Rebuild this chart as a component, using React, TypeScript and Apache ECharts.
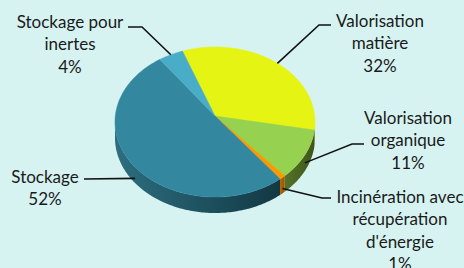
import React, { useEffect, useRef } from 'react';
import * as echarts from 'echarts';

const categories = [
  'Valorisation matière',
  'Valorisation organique',
  "Incinération avec récupération d'énergie",
  'Stockage',
  'Stockage pour inertes',
];
const labelTexts = [
  'Valorisation\nmatière',
  'Valorisation\norganique',
  "Incinération avec\nrécupération\nd'énergie",
  'Stockage',
  'Stockage pour\ninertes',
];
const values = [32, 11, 1, 52, 4];

const topColors = ['#e5f412', '#96d14f', '#f89a00', '#33879e', '#4aadc7'];
const sideColors = [
  ['#8a9400', '#6f7800'],
  ['#55722a', '#3e5519'],
  ['#b26600', '#9a5600'],
  ['#2d6e80', '#123843'],
  ['#2f7c90', '#236272'],
];

const PIE = { cx: 215, cy: 122, hubY: 116, rx: 100, ry: 75, depth: 16, startDeg: -19 };
const FONT = 'Lato';
const FONT_SIZE = 17;
const LINE_H = 22.5;

// label layout: anchor drop fraction (onto side wall), elbow, line end, text top-center
const labelLayout = [
  { drop: 0, elbow: [319, 25], end: [331, 25], text: [380, 9] },
  { drop: 0.5, elbow: [352, 144], end: [364, 144], text: [408, 106] },
  { drop: 0.7, elbow: [322, 198], end: [331, 198], text: [400, 185] },
  { drop: 0.7, elbow: null, end: [84, 179], text: [45, 165] },
  { drop: 0, elbow: [142, 27], end: [128, 27], text: [70, 10] },
];

function pt(deg: number, dy = 0): number[] {
  const r = (deg * Math.PI) / 180;
  return [PIE.cx + PIE.rx * Math.sin(r), PIE.cy - PIE.ry * Math.cos(r) + dy];
}

function arc(a0: number, a1: number, dy = 0): number[][] {
  const pts: number[][] = [];
  const n = Math.max(2, Math.ceil(Math.abs(a1 - a0) / 1));
  for (let i = 0; i <= n; i++) pts.push(pt(a0 + ((a1 - a0) * i) / n, dy));
  return pts;
}

export default function App() {
  const ref = useRef<HTMLDivElement>(null);
  useEffect(() => {
    if (!ref.current) return;
    const chart = echarts.init(ref.current, undefined, { renderer: 'svg' });
    const total = values.reduce((a, b) => a + b, 0);

    const renderItem = (params: any, api: any) => {
      const idx = params.dataIndex;
      const v = api.value(0);
      let before = 0;
      for (let i = 0; i < idx; i++) before += values[i];
      const a0 = PIE.startDeg + (before / total) * 360;
      const a1 = a0 + (v / total) * 360;
      const children: any[] = [];

      // side wall (front half: 90..270 clockwise from top)
      const s = Math.max(a0, 90);
      const e = Math.min(a1, 270);
      if (e > s) {
        const top = arc(s, e, 0);
        const bot = arc(s, e, PIE.depth).reverse();
        children.push({
          type: 'polygon',
          z2: 1,
          shape: { points: top.concat(bot) },
          style: {
            fill: new echarts.graphic.LinearGradient(0, 0, 1, 0, [
              { offset: 0, color: sideColors[idx][0] },
              { offset: 1, color: sideColors[idx][1] },
            ]),
            stroke: null,
          },
        });
      }

      // top face
      const topPts = [[PIE.cx, PIE.hubY]].concat(arc(a0, a1, 0));
      children.push({
        type: 'polygon',
        z2: 5,
        shape: { points: topPts },
        style: { fill: topColors[idx], stroke: topColors[idx], lineWidth: 0.5 },
      });

      // label
      const lay = labelLayout[idx];
      const mid = (a0 + a1) / 2;
      const anchor = pt(mid, PIE.depth * lay.drop);
      const linePts = lay.elbow ? [anchor, lay.elbow, lay.end] : [anchor, lay.end];
      children.push({
        type: 'polyline',
        z2: 10,
        shape: { points: linePts },
        style: { stroke: '#111', lineWidth: 1.6, fill: null },
      });
      children.push({
        type: 'text',
        z2: 10,
        x: lay.text[0],
        y: lay.text[1],
        style: {
          text: labelTexts[idx] + '\n' + v + '%',
          align: 'center',
          verticalAlign: 'top',
          fill: '#1a1a1a',
          font: `${FONT_SIZE}px ${FONT}`,
          lineHeight: LINE_H,
        },
      });
      return { type: 'group', children };
    };

    chart.setOption({
      animation: false,
      backgroundColor: '#d6f3f1',
      series: [
        {
          type: 'custom',
          coordinateSystem: 'none',
          renderItem,
          data: values.map((v, i) => ({ name: categories[i], value: [v] })),
        },
      ],
    });
    return () => chart.dispose();
  }, []);
  return (
    <div
      ref={ref}
      style={{ position: 'fixed', left: 0, top: 0, width: 464, height: 268 }}
    />
  );
}
